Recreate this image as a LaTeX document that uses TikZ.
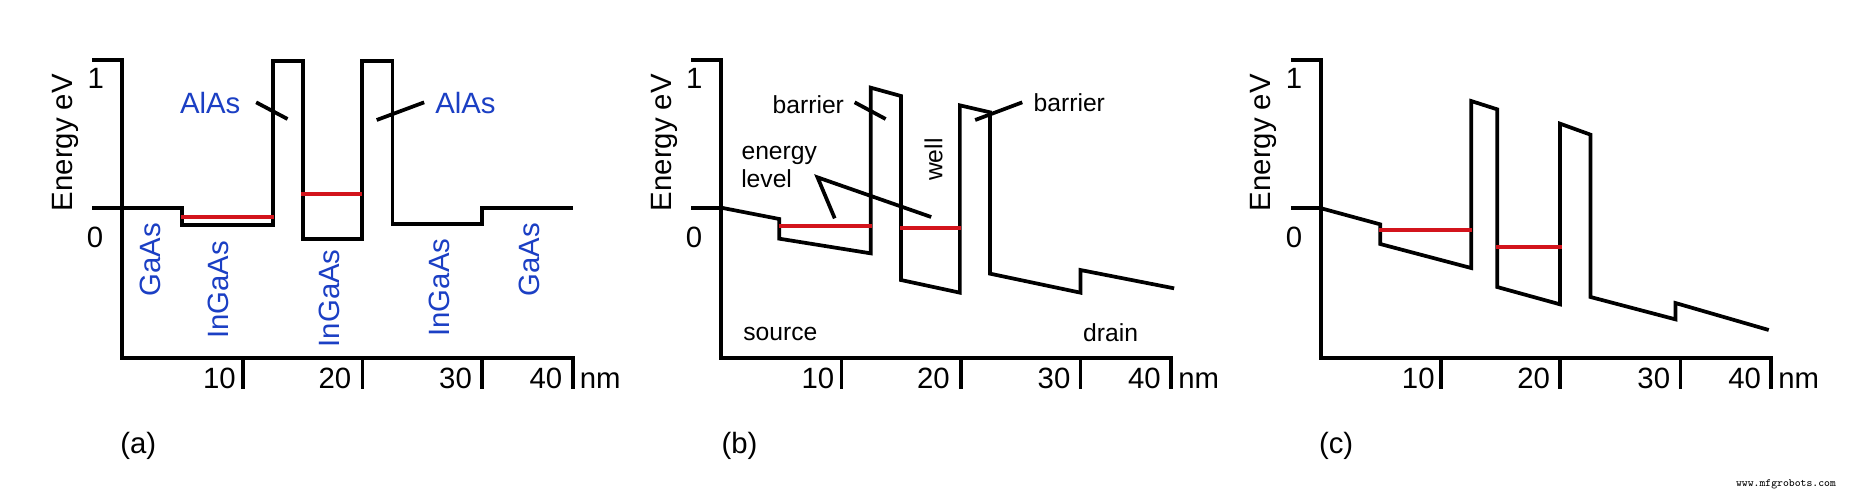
\documentclass[tikz,border=0pt]{standalone}
\usepackage{fontspec}
\setmainfont{Liberation Sans}
\tikzset{
  lbl/.style={inner sep=0pt,text height=15.8pt,text depth=0pt,font=\fontsize{22}{24}\selectfont},
  blu/.style={lbl,text=labelblue},
  small/.style={inner sep=0pt,text height=13.3pt,text depth=0pt,font=\fontsize{18.5}{20}\selectfont},
  panel/.style={x=0.287pt,y=-0.25pt,yshift=-22.5pt},
  ink/.style={line width=2.8pt,black,miter limit=10},
  lev/.style={line width=2.8pt,levelred},
  leader/.style={line width=2.8pt,black},
}
\definecolor{labelblue}{HTML}{1B3FC4}
\definecolor{levelred}{HTML}{D3141C}
\begin{document}
\begin{tikzpicture}
\useasboundingbox[fill=white] (0pt,0pt) rectangle (1393.5pt,-369.75pt);
% ---------- (a)
\begin{scope}[panel,xshift=22.5pt]
\draw[ink] (163,90)-|(240,984)-|(1418,1076);
\draw[ink] (557,984)--(557,1076) (869,984)--(869,1076) (1181,984)--(1181,1076);
\draw[ink] (163,535)--(240,535);
\draw[ink] (240,535)--(398,535)--(398,586)--(635,586)--(635,92)--(714,92)--(714,627)--(867,627)--(867,92)--(947,92)--(947,583)--(1182,583)--(1182,535)--(1420,535);
\draw[lev] (395,561)--(637,561);
\draw[lev] (709,491)--(868,491);
\coordinate (a1s) at (591,217); \coordinate (a1e) at (673,267);
\coordinate (a2s) at (1030,217); \coordinate (a2e) at (906,270);
\draw[leader] (a1s)--(a1e);
\draw[leader] (a2s)--(a2e);
\node[lbl,rotate=90] (aE) at (83,338) {Energy eV};
\node[lbl] (aone) at (172,145) {1};
\node[lbl] (azero) at (170,620) {0};
\node[lbl] (a10) at (495,1043) {10};
\node[lbl] (a20) at (797,1043) {20};
\node[lbl] (a30) at (1112,1043) {30};
\node[lbl] (a40) at (1348,1043) {40};
\node[lbl] (anm) at (1490,1045) {nm};
\node[lbl] (acap) at (283,1240) {(a)};
\node[blu] (aL) at (471,220) {AlAs};
\node[blu] (aR) at (1138,220) {AlAs};
\node[blu,rotate=90] (ag1) at (313,690) {GaAs};
\node[blu,rotate=90] (ai1) at (490,780) {InGaAs};
\node[blu,rotate=90] (ai2) at (780,805) {InGaAs};
\node[blu,rotate=90] (ai3) at (1070,773) {InGaAs};
\node[blu,rotate=90] (ag2) at (1305,690) {GaAs};
\end{scope}
% ---------- (b)
\begin{scope}[panel,xshift=472.5pt]
\draw[ink] (160,90)-|(238,984)-|(1413,1076);
\draw[ink] (553,984)--(553,1076) (865,984)--(865,1076) (1177,984)--(1177,1076);
\draw[ink] (160,535)--(238,535);
\draw[ink] (238,533)--(390,567)--(390,626)--(629,670)--(629,173)--(708,198)--(708,750)--(862,788)--(862,226)--(941,247)--(941,731)--(1177,788)--(1177,720)--(1422,775);
\draw[lev] (389,588)--(632,588);
\draw[lev] (706,594)--(865,594);
\coordinate (b1s) at (587,217); \coordinate (b1e) at (668,267);
\coordinate (b2s) at (1025,217); \coordinate (b2e) at (902,270);
\coordinate (b3a) at (535,565); \coordinate (b3b) at (490,442); \coordinate (b3c) at (787,561);
\draw[leader] (b1s)--(b1e);
\draw[leader] (b2s)--(b2e);
\draw[leader] (b3a)--(b3b)--(b3c);
\node[lbl,rotate=90] (bE) at (80,338) {Energy eV};
\node[lbl] (bone) at (168,145) {1};
\node[lbl] (bzero) at (167,620) {0};
\node[lbl] (b10) at (491,1043) {10};
\node[lbl] (b20) at (793,1043) {20};
\node[lbl] (b30) at (1108,1043) {30};
\node[lbl] (b40) at (1344,1043) {40};
\node[lbl] (bnm) at (1486,1045) {nm};
\node[lbl] (bcap) at (286,1240) {(b)};
\node[small] (bbl) at (466,225) {barrier};
\node[small] (bbr) at (1148,218) {barrier};
\node[small] (ben) at (390,363) {energy};
\node[small] (ble) at (357,447) {level};
\node[small,rotate=90] (bwe) at (793,389) {well};
\node[small] (bso) at (393,906) {source};
\node[small] (bdr) at (1256,908) {drain};
\end{scope}
% ---------- (c)
\begin{scope}[panel,x=0.3004pt,xshift=922.5pt]
\draw[ink] (152,90)-|(228,984)-|(1350,1076);
\draw[ink] (527,984)--(527,1076) (824,984)--(824,1076) (1125,984)--(1125,1076);
\draw[ink] (152,535)--(228,535);
\draw[ink] (228,535)--(375,583)--(375,642)--(602,714)--(602,213)--(667,238)--(667,771)--(824,823)--(824,281)--(900,314)--(900,801)--(1112,868)--(1112,819)--(1345,900);
\draw[lev] (372,600)--(605,600);
\draw[lev] (665,651)--(830,651);
\node[lbl,rotate=90] (cE) at (76,338) {Energy eV};
\node[lbl] (cone) at (160,145) {1};
\node[lbl] (czero) at (160,620) {0};
\node[lbl] (c10) at (470,1043) {10};
\node[lbl] (c20) at (758,1043) {20};
\node[lbl] (c30) at (1058,1043) {30};
\node[lbl] (c40) at (1285,1043) {40};
\node[lbl] (cnm) at (1420,1045) {nm};
\node[lbl] (ccap) at (265,1240) {(c)};
\node[inner sep=0pt,font=\ttfamily\fontsize{8.3}{9}\selectfont] (wm) at (1388,1362) {www.mfgrobots.com};
\end{scope}
\end{tikzpicture}
\end{document}
